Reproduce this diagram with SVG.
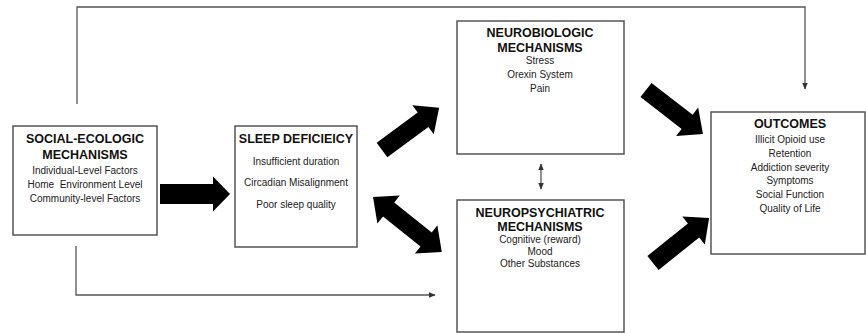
<svg xmlns="http://www.w3.org/2000/svg" width="866" height="333" viewBox="0 0 866 333">
<style>
.box{fill:#fff;stroke:#555;stroke-width:1.5}
.t{font-family:"Liberation Sans",Arial,sans-serif;font-weight:bold;font-size:12.5px;fill:#111;text-anchor:middle}
.b{font-family:"Liberation Sans",Arial,sans-serif;font-size:10px;fill:#222;text-anchor:middle}
.ln{fill:none;stroke:#555;stroke-width:1.3}
.blk{fill:#000}
</style>
<defs>
<marker id="ah" viewBox="0 0 10 10" refX="9" refY="5" markerWidth="7" markerHeight="7" orient="auto-start-reverse" markerUnits="userSpaceOnUse">
<path d="M0,1 L10,5 L0,9 Z" fill="#333"/>
</marker>
</defs>
<rect width="866" height="333" fill="#fff"/>
<g id="connectors">
<path class="ln" d="M77,104 V7 H805 V89" marker-end="url(#ah)"/>
<path class="ln" d="M76,246 V295 H435" marker-end="url(#ah)"/>
<line class="ln" x1="541" y1="164" x2="541" y2="189" marker-start="url(#ah)" marker-end="url(#ah)"/>
<path class="blk" d="M160,184 H213 V176.5 L230,194 L213,211.5 V204 H160 Z"/>
<path class="blk" transform="translate(382,150) rotate(-36.4)" d="M0,-9 H51 V-18 L71,0 L51,18 V9 H0 Z"/>
<path class="blk" transform="translate(646,90) rotate(37.7)" d="M0,-9 H52 V-18 L72,0 L52,18 V9 H0 Z"/>
<path class="blk" transform="translate(653,263) rotate(-38.8)" d="M0,-9 H52 V-18 L72,0 L52,18 V9 H0 Z"/>
<path class="blk" transform="translate(373,197) rotate(38.6)" d="M0,0 L20,-18 V-9 H68 V-18 L88,0 L68,18 V9 H20 V18 Z"/>
</g>
<g id="social">
<rect class="box" x="13" y="126" width="144" height="109"/>
<text class="t" x="85" y="143">SOCIAL-ECOLOGIC</text>
<text class="t" x="85" y="159">MECHANISMS</text>
<text class="b" x="85" y="174">Individual-Level Factors</text>
<text class="b" x="85" y="188" xml:space="preserve">Home  Environment Level</text>
<text class="b" x="85" y="202">Community-level Factors</text>
</g>
<g id="sleep">
<rect class="box" x="235" y="126" width="122" height="121"/>
<text class="t" x="296" y="143">SLEEP DEFICIEICY</text>
<text class="b" x="296" y="165">Insufficient duration</text>
<text class="b" x="296" y="186">Circadian Misalignment</text>
<text class="b" x="296" y="208">Poor sleep quality</text>
</g>
<g id="neurobiologic">
<rect class="box" x="457" y="21" width="167" height="133"/>
<text class="t" x="540" y="37">NEUROBIOLOGIC</text>
<text class="t" x="540" y="52">MECHANISMS</text>
<text class="b" x="540" y="64">Stress</text>
<text class="b" x="540" y="78">Orexin System</text>
<text class="b" x="540" y="92">Pain</text>
</g>
<g id="neuropsychiatric">
<rect class="box" x="457" y="200" width="167" height="132"/>
<text class="t" x="540" y="217">NEUROPSYCHIATRIC</text>
<text class="t" x="540" y="231">MECHANISMS</text>
<text class="b" x="540" y="243">Cognitive (reward)</text>
<text class="b" x="540" y="255">Mood</text>
<text class="b" x="540" y="267">Other Substances</text>
</g>
<g id="outcomes">
<rect class="box" x="711" y="112" width="154" height="142"/>
<text class="t" x="790" y="128">OUTCOMES</text>
<text class="b" x="790" y="143">Illicit Opioid use</text>
<text class="b" x="790" y="157">Retention</text>
<text class="b" x="790" y="171">Addiction severity</text>
<text class="b" x="790" y="184">Symptoms</text>
<text class="b" x="790" y="198">Social Function</text>
<text class="b" x="790" y="212">Quality of Life</text>
</g>
</svg>
